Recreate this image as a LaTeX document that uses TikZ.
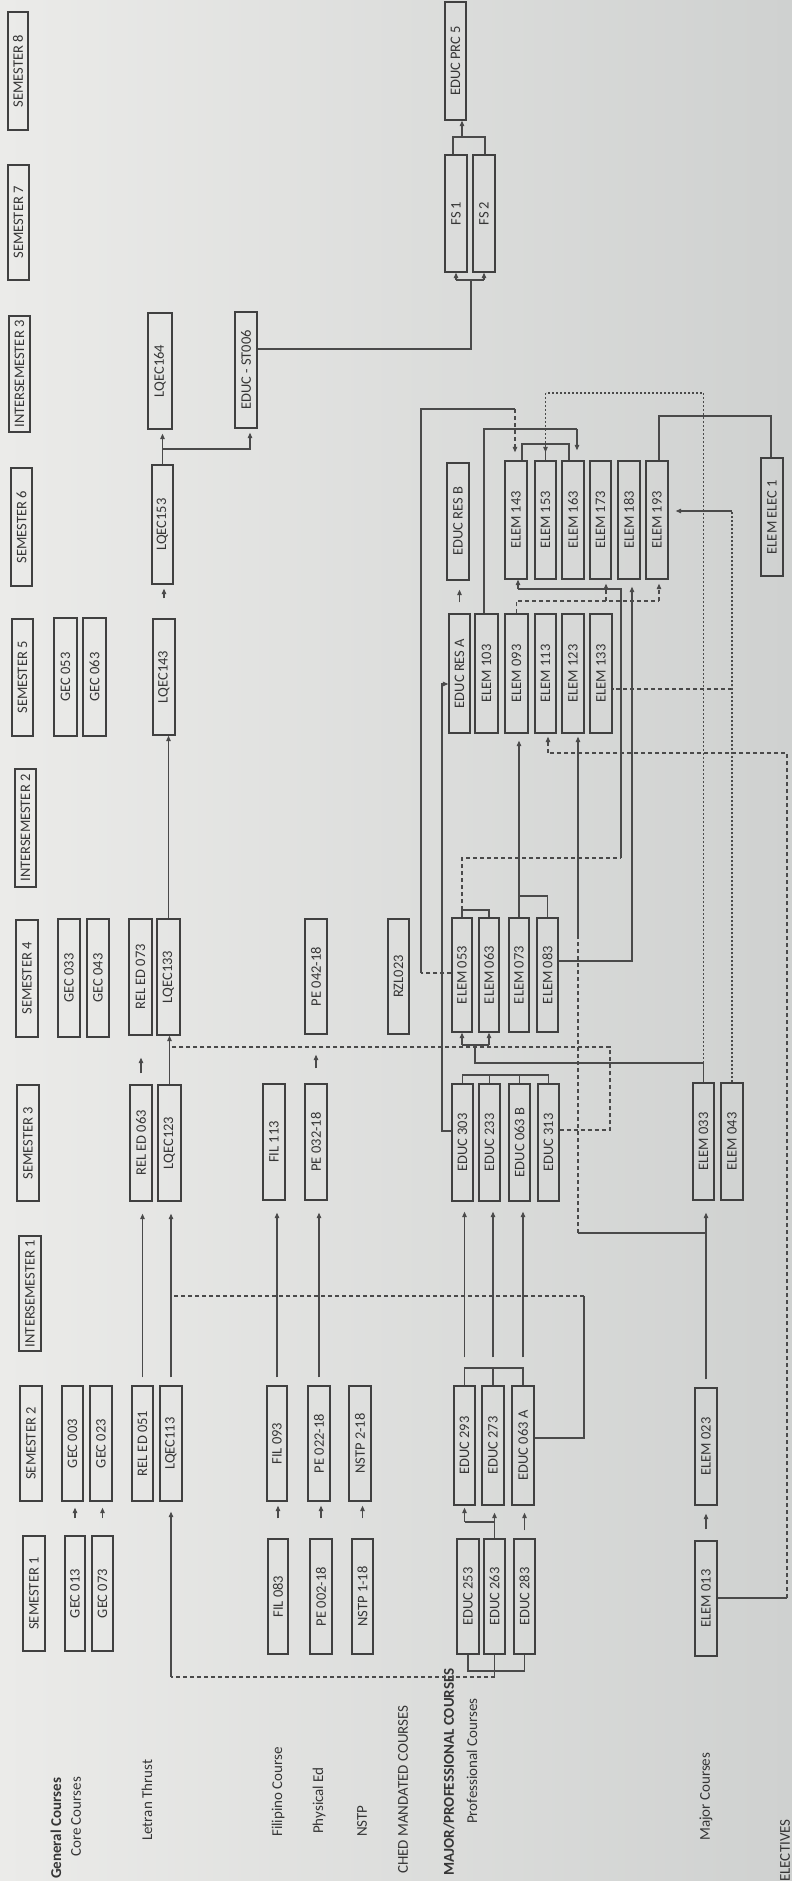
\documentclass[tikz,border=0pt]{standalone}
\usepackage{fontspec}
\setmainfont{Carlito}
\usetikzlibrary{arrows.meta}
\definecolor{linec}{HTML}{4A4A4A}
\definecolor{boxc}{HTML}{404040}
\definecolor{textc}{HTML}{353535}
\definecolor{bgl}{HTML}{EBEBE9}
\definecolor{bgr}{HTML}{CFD1D0}
\newcommand\cb[6]{\node[cbox, minimum width={#5-#4}, minimum height={#3-#2}] (#1) at ({(#2+#3)/2},{(#4+#5)/2}) {#6};}
\begin{document}
\begin{tikzpicture}[x=1pt,y=-1pt,
  cbox/.style={draw=boxc, line width=1.3pt, rotate=90, inner sep=0pt, font=\fontsize{14.5}{17}\selectfont, text=textc},
  lab/.style={rotate=90, anchor=west, inner sep=0pt, font=\fontsize{15}{17}\selectfont, text=textc},
  cn/.style={draw=linec, line width=1.1pt},
  ar/.style={cn, -{Triangle[length=5.5pt,width=4.5pt]}},
  dsh/.style={dash pattern=on 4pt off 3pt},
  dts/.style={dash pattern=on 2pt off 2pt},
  shortar/.style={ar, shorten <=12pt, shorten >=6pt},
  longar/.style={ar, shorten <=8pt, shorten >=12pt}]
\useasboundingbox (0,0) rectangle (792,1881);
\shade[left color=bgl, right color=bgr] (0,0) rectangle (792,1881);

% semester headers
\cb{s8}{8}{28}{12}{130}{SEMESTER 8}
\cb{s7}{8}{29}{165}{280}{SEMESTER 7}
\cb{is3}{9}{30}{316}{432}{INTERSEMESTER 3}
\cb{s6}{11}{32}{468}{586}{SEMESTER 6}
\cb{s5}{12}{33}{619}{736}{SEMESTER 5}
\cb{is2}{15}{36}{769}{887}{INTERSEMESTER 2}
\cb{s4}{16}{38}{920}{1037}{SEMESTER 4}
\cb{s3}{17}{39}{1085}{1201}{SEMESTER 3}
\cb{is1}{19}{41}{1236}{1351}{INTERSEMESTER 1}
\cb{s2}{20}{42}{1386}{1501}{SEMESTER 2}
\cb{s1}{23}{45}{1536}{1651}{SEMESTER 1}

% general courses
\cb{g013}{65}{85}{1536}{1651}{GEC 013}
\cb{g073}{92}{113}{1536}{1651}{GEC 073}
\cb{g003}{62}{83}{1386}{1501}{GEC 003}
\cb{g023}{90}{112}{1386}{1501}{GEC 023}
\cb{g033}{58}{80}{919}{1037}{GEC 033}
\cb{g043}{87}{109}{919}{1037}{GEC 043}
\cb{g053}{54}{77}{618}{736}{GEC 053}
\cb{g063}{83}{106}{618}{736}{GEC 063}

% Letran thrust
\cb{rel051}{132}{153}{1386}{1501}{REL ED 051}
\cb{lq113}{160}{182}{1386}{1501}{LQEC113}
\cb{rel063}{130}{152}{1085}{1201}{REL ED 063}
\cb{lq123}{158}{181}{1085}{1201}{LQEC123}
\cb{rel073}{129}{152}{919}{1035}{REL ED 073}
\cb{lq133}{157}{180}{919}{1035}{LQEC133}
\cb{lq143}{153}{175}{619}{735}{LQEC143}
\cb{lq153}{152}{173}{465}{584}{LQEC153}
\cb{lq164}{148}{172}{313}{429}{LQEC164}
\cb{st006}{235}{257}{312}{428}{EDUC - ST006}

% Filipino, PE, NSTP, CHED
\cb{fil083}{268}{288}{1539}{1654}{FIL 083}
\cb{pe002}{310}{332}{1539}{1654}{PE 002-18}
\cb{nstp1}{352}{373}{1539}{1654}{NSTP 1-18}
\cb{fil093}{267}{287}{1386}{1501}{FIL 093}
\cb{pe022}{308}{330}{1386}{1501}{PE 022-18}
\cb{nstp2}{349}{371}{1386}{1501}{NSTP 2-18}
\cb{fil113}{263}{285}{1084}{1200}{FIL 113}
\cb{pe032}{305}{327}{1084}{1200}{PE 032-18}
\cb{pe042}{305}{327}{919}{1034}{PE 042-18}
\cb{rzl023}{388}{409}{919}{1034}{RZL023}

% professional courses
\cb{e253}{457}{479}{1539}{1654}{EDUC 253}
\cb{e263}{484}{505}{1539}{1654}{EDUC 263}
\cb{e283}{514}{535}{1539}{1654}{EDUC 283}
\cb{e293}{454}{475}{1386}{1505}{EDUC 293}
\cb{e273}{482}{504}{1386}{1505}{EDUC 273}
\cb{e063a}{512}{534}{1386}{1505}{EDUC 063 A}
\cb{e303}{452}{473}{1084}{1201}{EDUC 303}
\cb{e233}{479}{500}{1084}{1201}{EDUC 233}
\cb{e063b}{509}{530}{1084}{1201}{EDUC 063 B}
\cb{e313}{538}{559}{1084}{1201}{EDUC 313}
\cb{el053}{452}{472}{918}{1032}{ELEM 053}
\cb{el063}{479}{499}{918}{1032}{ELEM 063}
\cb{el073}{509}{529}{918}{1032}{ELEM 073}
\cb{el083}{537}{558}{918}{1032}{ELEM 083}
\cb{resa}{449}{470}{614}{733}{EDUC RES A}
\cb{el103}{475}{498}{614}{733}{ELEM 103}
\cb{el093}{505}{528}{614}{733}{ELEM 093}
\cb{el113}{535}{556}{614}{733}{ELEM 113}
\cb{el123}{562}{584}{614}{733}{ELEM 123}
\cb{el133}{590}{612}{614}{733}{ELEM 133}
\cb{resb}{447}{469}{463}{580}{EDUC RES B}
\cb{el143}{505}{527}{461}{579}{ELEM 143}
\cb{el153}{535}{556}{461}{579}{ELEM 153}
\cb{el163}{562}{584}{461}{579}{ELEM 163}
\cb{el173}{590}{611}{461}{579}{ELEM 173}
\cb{el183}{618}{640}{461}{579}{ELEM 183}
\cb{el193}{646}{668}{461}{579}{ELEM 193}
\cb{elec1}{761}{783}{458}{576}{ELEM ELEC 1}
\cb{fs1}{445}{467}{155}{272}{FS 1}
\cb{fs2}{473}{495}{155}{272}{FS 2}
\cb{prc5}{445}{466}{2}{120}{EDUC PRC 5}

% major courses
\cb{el013}{695}{717}{1541}{1656}{ELEM 013}
\cb{el023}{695}{717}{1388}{1505}{ELEM 023}
\cb{el033}{693}{714}{1083}{1200}{ELEM 033}
\cb{el043}{721}{743}{1083}{1200}{ELEM 043}

% row labels
\node[lab, font=\fontsize{15}{17}\selectfont\bfseries] (lgen) at (56,1879) {General Courses};
\node[lab] (lcore) at (76,1857) {Core Courses};
\node[lab] (llet) at (147,1841) {Letran Thrust};
\node[lab] (lfil) at (278,1837) {Filipino Course};
\node[lab] (lpe) at (319,1834) {Physical Ed};
\node[lab] (lnstp) at (362,1837) {NSTP};
\node[lab] (lched) at (403,1874) {CHED MANDATED COURSES};
\node[lab, font=\fontsize{15}{17}\selectfont\bfseries] (lmaj) at (449,1876) {MAJOR/PROFESSIONAL COURSES};
\node[lab] (lprof) at (472,1824) {Professional Courses};
\node[lab] (lmajc) at (706,1841) {Major Courses};
\node[lab] (lelec) at (785,1882) {ELECTIVES};

% ---- connectors ----
% GEC
\draw[shortar, shorten <=17pt] (g013.east) -- (g003.west -| g013.east);
\draw[shortar, shorten <=17pt] (g073.east) -- (g023.west -| g073.east);
% Letran
\draw[longar] (rel051.east) -- (rel063.west -| rel051.east);
\draw[longar] (lq113.east) -- (lq123.west -| lq113.east);
\draw[ar, shorten <=11pt, shorten >=22pt] (rel063.east) -- (rel073.west -| rel063.east);
\draw[ar] (lq123.east) -- (lq133.west -| lq123.east);
\draw[ar] (lq133.east) -- (lq143.west -| lq133.east);
\draw[ar, shorten <=20pt, shorten >=4pt] (lq143.east) -- (lq153.west -| lq143.east);
\draw[cn] (lq153.east) -- (lq153.east |- 0,449) coordinate (j1);
\draw[ar, shorten >=4pt] (j1) -- (lq164.west -| j1);
\draw[ar, shorten >=4pt] (j1) -- (j1 -| 250,0) -- (st006.west -| 250,0);
\draw[cn] (st006.south |- 0,349) -- (471,349) -- (471,280);
\draw[cn] (fs1.west |- 0,280) -- (fs2.west |- 0,280);
\draw[ar] (fs1.west |- 0,280) -- (fs1.west);
\draw[ar] (fs2.west |- 0,280) -- (fs2.west);
\draw[cn] (fs1.east -| 453,0) -- (453,137) -- (485,137) -- (fs2.east -| 485,0);
\draw[ar] (462,137) -- (prc5.west -| 462,0);
% Filipino / PE / NSTP
\draw[shortar, shorten <=20pt, shorten >=4pt] (fil083.east) -- (fil093.west -| fil083.east);
\draw[shortar, shorten <=20pt, shorten >=4pt] (pe002.east) -- (pe022.west -| pe002.east);
\draw[shortar, shorten <=20pt, shorten >=4pt] (nstp1.east) -- (nstp2.west -| nstp1.east);
\draw[longar] (fil093.east) -- (fil113.west -| fil093.east);
\draw[longar] (pe022.east) -- (pe032.west -| pe022.east);
\draw[ar, shorten <=15pt, shorten >=20pt] (pe032.east) -- (pe042.west -| pe032.east);
% dashed feeds into Letran line
\draw[cn] (e063a.south |- 0,1438) -- (584,1438) -- (584,1296);
\draw[cn,dsh] (584,1296) -- (lq113.east |- 0,1296);
\draw[cn] (e253.west) -- (e253.west |- 0,1671) -- (e283.west |- 0,1671) -- (e283.west);
\draw[cn] (e263.west) -- (e263.west |- 0,1677);
\draw[cn,dsh] (e263.west |- 0,1677) -- (lq113.west |- 0,1677);
\draw[ar, shorten >=10pt] (lq113.west |- 0,1677) -- (lq113.west);
\draw[cn,dsh] (e313.south |- 0,1130) -- (610,1130) -- (610,1047) -- (lq123.east |- 0,1047);
% professional S1 -> S2
\draw[ar, shorten <=8pt, shorten >=7pt] (e283.east) -- (e063a.west -| e283.east);
\draw[ar, shorten >=7pt] (e263.east) -- (e273.west -| e263.east);
\draw[cn] (e263.east |- 0,1522) -- (e293.west |- 0,1522);
\draw[ar, shorten >=2pt] (e293.west |- 0,1522) -- (e293.west);
% S2 bracket and arrows to S3
\draw[cn] (e293.east) -- (e293.east |- 0,1368) -- (e063a.east |- 0,1368) -- (e063a.east);
\draw[cn] (e273.east) -- (e273.east |- 0,1368);
\draw[ar, shorten <=28pt, shorten >=10pt] (e293.east) -- (e303.west -| e293.east);
\draw[ar, shorten <=28pt, shorten >=10pt] (e273.east) -- (e233.west -| e273.east);
\draw[ar, shorten <=28pt, shorten >=10pt] (e063a.east) -- (e063b.west -| e063a.east);
% S3 bracket
\draw[cn] (e303.east) -- (e303.east |- 0,1075) -- (e313.east |- 0,1075) -- (e313.east);
\draw[cn] (e233.east) -- (e233.east |- 0,1075);
\draw[cn] (e063b.east) -- (e063b.east |- 0,1075);
% EDUC 303 -> EDUC RES A
\draw[ar] (e303.north |- 0,1131) -- (442,1131) -- (442,684) -- (resa.north |- 0,684);
\draw[ar, shorten <=11pt, shorten >=9pt] (resa.east) -- (resb.west -| resa.east);
% ELEM 033 -> ELEM 053 / 063
\draw[cn] (el033.east) -- (el033.east |- 0,1063) -- (475,1063) -- (475,1045);
\draw[cn] (el053.west |- 0,1045) -- (el063.west |- 0,1045);
\draw[ar] (el053.west |- 0,1045) -- (el053.west);
\draw[ar] (el063.west |- 0,1045) -- (el063.west);
% ELEM 033 -> ELEM 153 (dotted)
\draw[cn,dts] (el033.east |- 0,1063) -- (el033.east |- 0,393) -- (el153.east |- 0,393);
\draw[ar,dts, shorten >=8pt] (el153.east |- 0,393) -- (el153.east);
% ELEM 053 -> ELEM 143
\draw[cn,dsh] (el053.north |- 0,973) -- (421,973);
\draw[cn] (421,973) -- (421,409) -- (515,409);
\draw[ar,dsh, shorten >=8pt] (515,409) -- (el143.east -| 515,0);
% ELEM 053/063 -> ELEM 143 (bottom)
\draw[cn] (el053.east) -- (el053.east |- 0,910) -- (el063.east |- 0,910) -- (el063.east);
\draw[cn,dsh] (el053.east |- 0,910) -- (el053.east |- 0,858) -- (621,858);
\draw[cn] (621,858) -- (621,589) -- (518,589);
\draw[ar] (518,589) -- (el143.west -| 518,0);
% ELEM 073/083 -> ELEM 093
\draw[cn] (el083.east) -- (el083.east |- 0,896) -- (el073.east |- 0,896);
\draw[ar, shorten >=7pt] (el073.east) -- (el093.west -| el073.east);
% ELEM 083 -> ELEM 183
\draw[ar, shorten >=7pt] (el083.south |- 0,961) -- (632,961) -- (el183.west -| 632,0);
% ELEM 093 -> ELEM 173 / 193 (dashed)
\draw[cn,dsh] (el093.east) -- (el093.east |- 0,601) -- (659,601);
\draw[ar,dsh, shorten >=4pt] (659,601) -- (el193.west -| 659,0);
\draw[ar,dsh, shorten >=4pt] (606,601) -- (el173.west -| 606,0);
% ELEM 103 -> ELEM 163
\draw[cn] (el103.east -| 484,0) -- (484,429) -- (577,429);
\draw[ar, shorten >=10pt] (577,429) -- (el163.east -| 577,0);
% bracket ELEM 143 / 153 / 163
\draw[cn] (el143.east -| 522,0) -- (522,444) -- (569,444) -- (el163.east -| 569,0);
\draw[cn] (el153.east) -- (el153.east |- 0,444);
% ELEM 043 -> ELEM 193 / 133
\draw[cn,dts] (el043.east) -- (el043.east |- 0,511);
\draw[ar, shorten >=7pt] (el043.east |- 0,511) -- (el193.south |- 0,511);
\draw[cn,dsh] (el043.east |- 0,689) -- (el133.south |- 0,689);
% ELEM 013 -> ELEM 113
\draw[cn] (el013.south |- 0,1598) -- (787,1598);
\draw[cn,dsh] (787,1598) -- (787,753) -- (548,753);
\draw[ar,dsh, shorten >=3pt] (548,753) -- (el113.west -| 548,0);
% ELEM 023 -> ELEM 123
\draw[cn] (el023.east |- 0,1233) -- (578,1233);
\draw[cn,dsh] (578,1233) -- (578,935);
\draw[ar, shorten >=3pt] (578,935) -- (el123.west -| 578,0);
% major row
\draw[ar, shorten <=11pt, shorten >=8pt] (el013.east) -- (el023.west -| el013.east);
\draw[longar] (el023.east) -- (el033.west -| el023.east);
% ELEM 193 - ELEM ELEC 1
\draw[cn] (el193.east -| 659,0) -- (659,416) -- (771,416) -- (elec1.east -| 771,0);
\end{tikzpicture}
\end{document}
